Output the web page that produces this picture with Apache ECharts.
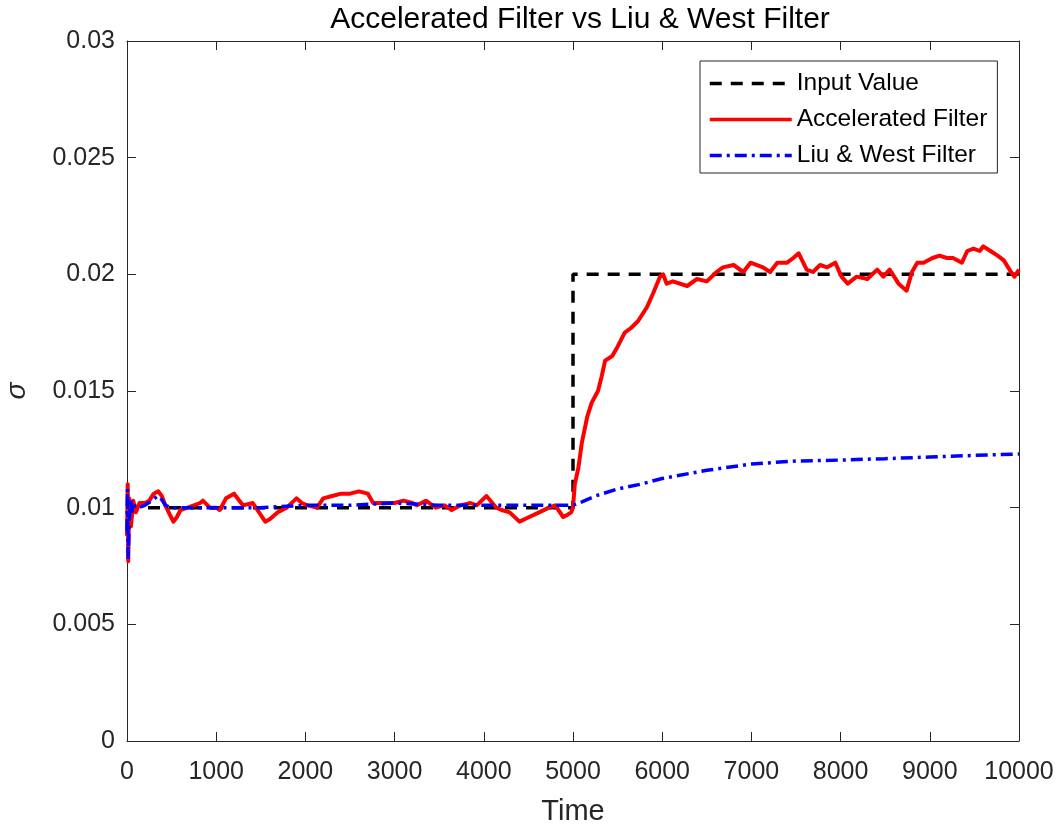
<!DOCTYPE html>
<html>
<head>
<meta charset="utf-8">
<script src="https://cdn.jsdelivr.net/npm/echarts@6/dist/echarts.min.js"></script>
<style>
  html, body { margin: 0; padding: 0; background: #fff; }
  #chart { width: 1061px; height: 828px; }
</style>
</head>
<body>
<div id="chart"></div>
<script>
// Step input: sigma jumps from 0.01 to 0.02 at t = 5000
const inputT = [0, 5000, 5000, 10000];
const inputV = [0.01, 0.01, 0.02, 0.02];

// Accelerated filter estimate of sigma
const accelT = [0, 8, 14, 25, 45, 70, 100, 140, 200, 250, 300, 350, 390, 430, 480, 520, 560, 600, 680, 750,
  820, 850, 930, 1000, 1040, 1110, 1200, 1260, 1300, 1410, 1480, 1550, 1600, 1690, 1790, 1900, 1960, 2020, 2130, 2200,
  2300, 2400, 2500, 2600, 2700, 2760, 2880, 3000, 3100, 3200, 3250, 3350, 3460, 3560, 3640, 3740, 3850, 3920, 4030, 4140,
  4200, 4290, 4400, 4510, 4620, 4730, 4800, 4890, 4940, 4980, 5000, 5020, 5060, 5100, 5160, 5210, 5280, 5320, 5360, 5440,
  5500, 5580, 5650, 5730, 5830, 5900, 5975, 6010, 6050, 6120, 6280, 6390, 6500, 6610, 6680, 6800, 6910, 6990, 7130, 7210,
  7290, 7400, 7470, 7530, 7620, 7690, 7770, 7850, 7940, 8010, 8080, 8180, 8300, 8410, 8480, 8550, 8650, 8740, 8800, 8860,
  8930, 9030, 9110, 9190, 9260, 9360, 9420, 9490, 9560, 9600, 9680, 9760, 9830, 9910, 9950, 10000];
const accelV = [0.0088, 0.0110, 0.0077, 0.0104, 0.0092, 0.0103, 0.0098, 0.0102, 0.0102, 0.0103, 0.0106, 0.0107, 0.0105, 0.0101, 0.0097, 0.0094, 0.0096, 0.0099, 0.0100, 0.0101,
  0.0102, 0.0103, 0.0100, 0.0100, 0.0099, 0.0104, 0.0106, 0.0103, 0.0101, 0.0102, 0.0098, 0.0094, 0.0095, 0.0098, 0.0100, 0.0104, 0.0102, 0.0101, 0.0100, 0.0104,
  0.0105, 0.0106, 0.0106, 0.0107, 0.0106, 0.0102, 0.0102, 0.0102, 0.0103, 0.0102, 0.0101, 0.0103, 0.0100, 0.0101, 0.0099, 0.0101, 0.0102, 0.0101, 0.0105, 0.0100,
  0.0099, 0.0098, 0.0094, 0.0096, 0.0098, 0.0100, 0.0101, 0.0096, 0.0097, 0.0098, 0.0100, 0.0110, 0.0117, 0.0128, 0.0139, 0.0145, 0.0150, 0.0156, 0.0163, 0.0165,
  0.0169, 0.0175, 0.0177, 0.0180, 0.0186, 0.0192, 0.0199, 0.0200, 0.0196, 0.0197, 0.0195, 0.0198, 0.0197, 0.0201, 0.0203, 0.0204, 0.0201, 0.0205, 0.0203, 0.0201,
  0.0205, 0.0205, 0.0207, 0.0209, 0.0202, 0.0201, 0.0204, 0.0203, 0.0205, 0.0199, 0.0196, 0.0199, 0.0198, 0.0202, 0.0199, 0.0202, 0.0196, 0.0193, 0.0201, 0.0205,
  0.0205, 0.0207, 0.0208, 0.0207, 0.0207, 0.0205, 0.0210, 0.0211, 0.0210, 0.0212, 0.0210, 0.0208, 0.0206, 0.0201, 0.0199, 0.0202];

// Liu & West filter estimate of sigma
const liuT = [0, 6, 12, 25, 40, 60, 90, 130, 200, 280, 340, 380, 430, 500, 600, 800, 1000, 1500, 2000, 2500,
  3000, 3500, 4000, 4500, 4900, 5000, 5100, 5250, 5500, 5750, 6000, 6500, 7000, 7500, 8000, 8500, 9000, 9500, 10000];
const liuV = [0.0090, 0.0108, 0.0078, 0.0095, 0.0104, 0.0098, 0.0101, 0.0100, 0.0101, 0.0103, 0.0105, 0.0104, 0.0101, 0.0100, 0.0100, 0.0100, 0.0100, 0.0100, 0.0101, 0.0101,
  0.0102, 0.0101, 0.0101, 0.0101, 0.0101, 0.0101, 0.01025, 0.0105, 0.0108, 0.0110, 0.01125, 0.0116, 0.01187, 0.0120, 0.01204, 0.0121, 0.01217, 0.01224, 0.0123];

const zip = (t, v) => t.map((x, i) => [x, v[i]]);

const FONT = '"Liberation Sans", Arial, Helvetica, sans-serif';
const AX = '#262626';

const xBase = {
  type: 'value', min: 0, max: 10000, interval: 1000,
  axisLine: { show: true, onZero: false, lineStyle: { color: AX, width: 1 } },
  axisTick: { show: true, inside: true, length: 9, lineStyle: { color: AX, width: 1 } },
  splitLine: { show: false }
};
const yBase = {
  type: 'value', min: 0, max: 0.03, interval: 0.005,
  axisLine: { show: true, onZero: false, lineStyle: { color: AX, width: 1 } },
  axisTick: { show: true, inside: true, length: 9, lineStyle: { color: AX, width: 1 } },
  splitLine: { show: false }
};

const chart = echarts.init(document.getElementById('chart'), null, { renderer: 'canvas' });
chart.setOption({
  animation: false,
  backgroundColor: '#ffffff',
  title: {
    text: 'Accelerated Filter vs Liu & West Filter',
    left: 575, top: 0, textAlign: 'center',
    textStyle: { fontFamily: FONT, fontSize: 30, fontWeight: 'normal', color: '#000' }
  },
  grid: { left: 127, right: 42, top: 41, bottom: 87, containLabel: false, outerBoundsMode: 'none' },
  legend: {
    orient: 'vertical', left: 700, top: 61,
    padding: [10, 10, 5, 8], itemGap: 11,
    itemWidth: 82, itemHeight: 14,
    borderColor: AX, borderWidth: 1, backgroundColor: '#fff',
    itemStyle: { opacity: 0 },
    lineStyle: { width: 3.5 },
    textStyle: { fontFamily: FONT, fontSize: 24.5, color: '#000', lineHeight: 24 },
    data: ['Input Value', 'Accelerated Filter', 'Liu & West Filter']
  },
  xAxis: [
    Object.assign({}, xBase, {
      position: 'bottom',
      name: 'Time', nameLocation: 'middle', nameGap: 56,
      nameTextStyle: { fontFamily: FONT, fontSize: 29, color: '#262626' },
      axisLabel: { fontFamily: FONT, fontSize: 25, color: '#262626', margin: 19, formatter: v => String(v) }
    }),
    Object.assign({}, xBase, { position: 'top', axisLabel: { show: false } })
  ],
  yAxis: [
    Object.assign({}, yBase, {
      position: 'left',
      name: 'σ', nameLocation: 'middle', nameGap: 96, nameRotate: 90,
      nameTextStyle: { fontFamily: FONT, fontSize: 28, fontStyle: 'italic', color: '#262626' },
      axisLabel: {
        fontFamily: FONT, fontSize: 25, color: '#262626', margin: 12,
        formatter: v => String(+v.toFixed(3))
      }
    }),
    Object.assign({}, yBase, { position: 'right', axisLabel: { show: false } })
  ],
  series: [
    {
      name: 'Input Value', type: 'line', data: zip(inputT, inputV),
      showSymbol: false, symbol: 'none',
      lineStyle: { color: '#000', width: 3.5, type: [12, 9] },
      itemStyle: { color: '#000' }, z: 2
    },
    {
      name: 'Accelerated Filter', type: 'line', data: zip(accelT, accelV),
      showSymbol: false, symbol: 'none',
      lineStyle: { color: '#ff0000', width: 4, join: 'round' },
      itemStyle: { color: '#ff0000' }, z: 3
    },
    {
      name: 'Liu & West Filter', type: 'line', data: zip(liuT, liuV),
      showSymbol: false, symbol: 'none',
      lineStyle: { color: '#0000ff', width: 3.5, type: [12, 5, 3, 5] },
      itemStyle: { color: '#0000ff' }, z: 4
    }
  ]
});
</script>
</body>
</html>
